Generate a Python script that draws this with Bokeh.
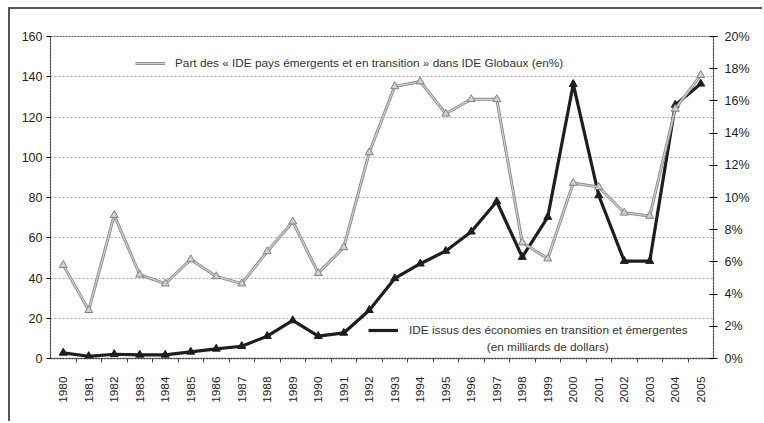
import math
from bokeh.plotting import figure
from bokeh.models import (Range1d, LinearAxis, FixedTicker, PrintfTickFormatter,
                          Legend, LegendItem, Label, ColumnDataSource)
from bokeh.embed import file_html
from bokeh.resources import INLINE

years = list(range(1980, 2006))
ide_bn = [2.8, 1.1, 2.1, 1.8, 1.8, 3.3, 4.8, 6.1, 11.1, 18.9, 11.1, 12.7, 24.0,
          39.8, 47.1, 53.4, 63.0, 78.0, 50.4, 70.3, 136.3, 81.0, 48.4, 48.4,
          126.0, 136.5]
part_pct = [5.8, 3.0, 8.9, 5.2, 4.65, 6.15, 5.1, 4.65, 6.65, 8.5, 5.3, 6.9, 12.8,
            16.9, 17.2, 15.2, 16.1, 16.1, 7.2, 6.2, 10.9, 10.65, 9.05, 8.85,
            15.5, 17.6]
left_ticks = [0, 20, 40, 60, 80, 100, 120, 140, 160]
right_ticks = [0, 2, 4, 6, 8, 10, 12, 14, 16, 18, 20]
label_part = "Part des « IDE pays émergents et en transition » dans IDE Globaux (en%)"
label_ide_1 = "IDE issus des économies en transition et émergentes"
label_ide_2 = "(en milliards de dollars)"

FONT = "Liberation Sans"
LEG_SIZE = "11.8px"

src = ColumnDataSource(dict(year=years, ide=ide_bn, part=part_pct))

p = figure(width=754, height=414, x_range=Range1d(1979.5, 2005.5),
           y_range=Range1d(0, 160), output_backend="svg", toolbar_location=None,
           min_border_left=40, min_border_right=51, min_border_top=27,
           min_border_bottom=65)
p.extra_y_ranges = {"pct": Range1d(0, 20)}
p.styles = {"margin-left": "8px", "margin-top": "7px",
            "border-top": "2px solid #555", "border-left": "2px solid #555"}

p.outline_line_color = "#555555"
p.outline_line_dash = "2 1"
p.outline_line_width = 1.2
p.background_fill_color = "white"
p.border_fill_color = "white"

# grid
p.xgrid.visible = False
p.ygrid.ticker = FixedTicker(ticks=left_ticks)
p.ygrid.grid_line_color = "#b0a0b0"
p.ygrid.grid_line_dash = "2 2"
p.ygrid.grid_line_width = 1

# left axis
ya = p.yaxis[0]
ya.ticker = FixedTicker(ticks=left_ticks)
ya.major_tick_in = 0
ya.major_tick_out = 4
ya.minor_tick_line_color = None
ya.major_label_standoff = 4
ya.axis_line_color = "#444444"
ya.axis_line_dash = "2 1"
ya.major_label_text_font = FONT
ya.major_label_text_font_size = "12.5px"
ya.major_label_text_color = "#222222"

# right axis
ra = LinearAxis(y_range_name="pct", ticker=FixedTicker(ticks=right_ticks),
                formatter=PrintfTickFormatter(format="%d%%"))
ra.major_tick_in = 4
ra.major_tick_out = 4
ra.minor_tick_line_color = None
ra.major_label_standoff = 7
ra.axis_line_color = "#444444"
ra.axis_line_dash = "2 1"
ra.major_label_text_font = FONT
ra.major_label_text_font_size = "12.5px"
ra.major_label_text_color = "#222222"
p.add_layout(ra, "right")

# bottom axis
xa = p.xaxis[0]
xa.ticker = FixedTicker(ticks=years, minor_ticks=[y + 0.5 for y in years[:-1]])
xa.major_tick_in = 0
xa.major_tick_out = 0
xa.minor_tick_in = 0
xa.minor_tick_out = 4
xa.minor_tick_line_color = "#444444"
xa.major_label_orientation = math.pi / 2
xa.major_label_standoff = 14
xa.axis_line_color = "#444444"
xa.axis_line_dash = "2 1"
xa.axis_line_width = 1.5
xa.major_label_text_font = FONT
xa.major_label_text_font_size = "11.8px"
xa.major_label_text_color = "#222222"

# black series (left axis)
bl = p.line("year", "ide", source=src, line_color="#1e1e1e", line_width=3.2)
p.scatter("year", "ide", source=src, marker="triangle", size=8,
          fill_color="#1e1e1e", line_color="#1e1e1e")

# grey series (right axis)
g1 = p.line("year", "part", source=src, y_range_name="pct",
            line_color="#8c8c8c", line_width=3)
g2 = p.line("year", "part", source=src, y_range_name="pct",
            line_color="#d0d0d0", line_width=1.2)
p.scatter("year", "part", source=src, y_range_name="pct", marker="triangle",
          size=8, fill_color="#cfcfcf", line_color="#808080", line_width=1)

leg_top = Legend(items=[LegendItem(label=label_part, renderers=[g1, g2])],
                 location=(85, 288), padding=0, margin=0, spacing=0,
                 glyph_width=30, glyph_height=14, label_standoff=10,
                 label_height=14, border_line_alpha=0, background_fill_alpha=0,
                 label_text_font=FONT, label_text_font_size=LEG_SIZE,
                 label_text_color="#333333")
leg_bot = Legend(items=[LegendItem(label=label_ide_1, renderers=[bl])],
                 location=(318, 21), padding=0, margin=0, spacing=0,
                 glyph_width=30, glyph_height=14, label_standoff=11,
                 label_height=14, border_line_alpha=0, background_fill_alpha=0,
                 label_text_font=FONT, label_text_font_size=LEG_SIZE,
                 label_text_color="#333333")
p.add_layout(leg_top)
p.add_layout(leg_bot)
p.add_layout(Label(x=1999.0, y=5.6, text=label_ide_2, text_align="center",
                   text_baseline="middle", text_font=FONT,
                   text_font_size=LEG_SIZE, text_color="#333333"))

open("out.html", "w").write(file_html(p, INLINE))
